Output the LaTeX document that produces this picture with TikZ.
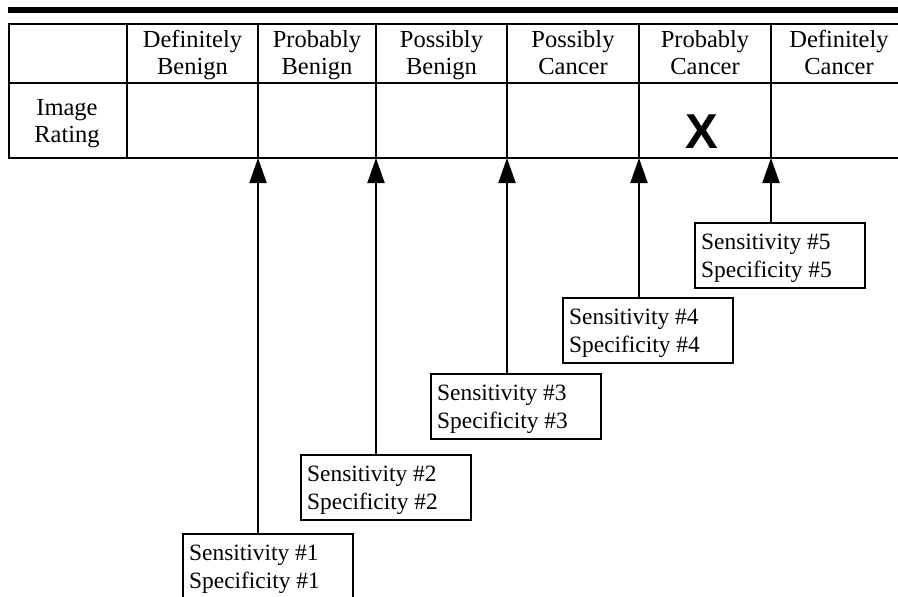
\documentclass[tikz,border=0pt]{standalone}
\usepackage{fontspec}
\setmainfont{Liberation Serif}
\newfontfamily\xfont{Liberation Sans}
\usetikzlibrary{arrows.meta}
\begin{document}
\begin{tikzpicture}[x=1pt,y=-1pt,
  grid/.style={line width=2pt},
  hdr/.style={font=\fontsize{24.5}{27}\selectfont, anchor=base, inner sep=0pt},
  sbox/.style={draw, line width=2pt, minimum width=170pt, minimum height=65pt, anchor=north west, inner sep=0pt},
  tallbox/.style={sbox, minimum height=72pt},
  btxt/.style={font=\fontsize{23.4}{28}\selectfont, anchor=base west, inner sep=0pt},
  arr/.style={line width=2pt, -{Triangle[length=25pt,width=17pt]}},
  xsign/.style={font=\xfont\bfseries\fontsize{49}{49}\selectfont, anchor=base, inner sep=0pt}
]
\useasboundingbox (0,0) rectangle (898,597);
\fill[white] (0,0) rectangle (898,597);
% top bar
\fill[black] (8,7) rectangle (898,12.5);
% table
\draw[grid] (898,24) -- (9,24) -- (9,158) -- (898,158);
\draw[grid] (9,83) -- (898,83);
\foreach \x in {127,258,376,507,639,771} {
  \draw[grid] (\x,24) -- (\x,158);
}
% arrow targets on the table bottom line
\coordinate (a1) at (258,158);
\coordinate (a2) at (376,158);
\coordinate (a3) at (507,158);
\coordinate (a4) at (639,158);
\coordinate (a5) at (771,158);
% headers
\foreach \n/\x/\a/\b in {1/192.5/Definitely/Benign, 2/317/Probably/Benign, 3/441.5/Possibly/Benign, 4/573/Possibly/Cancer, 5/705/Probably/Cancer, 6/839/Definitely/Cancer} {
  \node[hdr] (h\n a) at (\x,47) {\a};
  \node[hdr] (h\n b) at (\x,74) {\b};
}
\node[hdr] (ir1) at (67,115) {Image};
\node[hdr] (ir2) at (67,142) {Rating};
\node[xsign] (xm) at (702,148) {X};
% boxes
\node[tallbox] (b1) at (182,533) {};
\node[sbox] (b2) at (300,454) {};
\node[sbox] (b3) at (430,373) {};
\node[sbox] (b4) at (562,297) {};
\node[sbox] (b5) at (694,222) {};
\foreach \n in {1,...,5} {
  \path (b\n.north west) ++(7,27) node[btxt] (s\n) {Sensitivity \#\n};
  \path (b\n.north west) ++(7,55.5) node[btxt] (p\n) {Specificity \#\n};
  \draw[arr] (b\n.north -| a\n) -- (a\n);
}
\end{tikzpicture}
\end{document}
